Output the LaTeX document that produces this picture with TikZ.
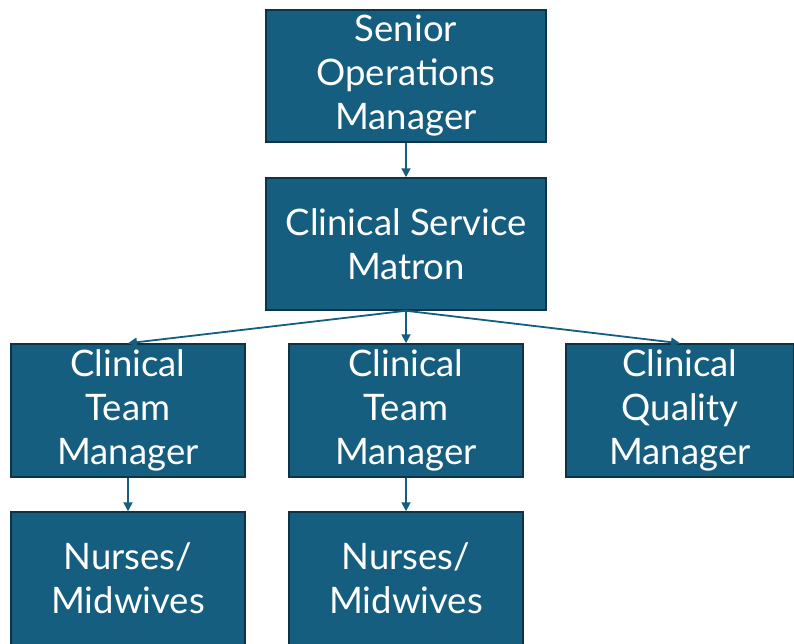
\documentclass[tikz,border=0pt]{standalone}
\usepackage{fontspec}
\setmainfont{Lato}
\usepackage{xcolor}
\usetikzlibrary{positioning, arrows.meta}
\definecolor{boxblue}{HTML}{165E80}
\definecolor{boxedge}{HTML}{0C3346}
\begin{document}
\begin{tikzpicture}
      [x=1pt, y=-1pt,
       role/.style={rectangle,draw=boxedge,fill=boxblue,line width=1.5pt,
         text=white,align=center,inner sep=0pt,
         font=\fontsize{36.5}{44}\selectfont},
       wide/.style={role,minimum width=280pt,minimum height=132pt},
       team/.style={role,minimum width=234pt,minimum height=133pt},
       link/.style={draw=boxblue,line width=1.8pt,
         -{Triangle[length=9pt,width=9pt]}}]
        \useasboundingbox (0,0) rectangle (794,643);
        \node (S) at (406,76) [wide] {Senior\\Operations\\Manager};
        \node (M) at (406,244) [wide] {Clinical Service\\Matron};
        \node (T1) at (128,410.5) [team] {Clinical\\Team\\Manager};
        \node (T2) at (406,410.5) [team] {Clinical\\Team\\Manager};
        \node (Q) at (680,410.5) [team,minimum width=228pt] {Clinical\\Quality\\Manager};
        \node (N1) at (128,578.5) [team] {Nurses/\\Midwives};
        \node (N2) at (406,578.5) [team] {Nurses/\\Midwives};

        \draw[link] (S) -- (M);
        \draw[link] (M.south) -- (T1.north);
        \draw[link] (M.south) -- (T2.north);
        \draw[link] (M.south) -- (Q.north);
        \draw[link] (T1) -- (N1);
        \draw[link] (T2) -- (N2);
      \end{tikzpicture}
\end{document}
